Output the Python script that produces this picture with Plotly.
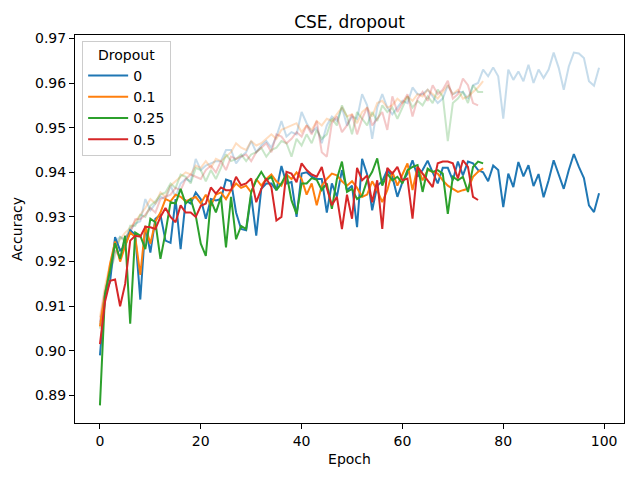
import plotly.graph_objects as go

# validation accuracy per dropout rate
val_0 = [0.899, 0.9125, 0.9155, 0.9255, 0.9225, 0.9235, 0.927, 0.926, 0.9115, 0.928,
         0.922, 0.9296, 0.9305, 0.9247, 0.9242, 0.934, 0.9228, 0.9337, 0.933, 0.9355,
         0.934, 0.9296, 0.934, 0.9337, 0.934, 0.9384, 0.938, 0.931, 0.9273, 0.927,
         0.9348, 0.9258, 0.9363, 0.9375, 0.9375, 0.936, 0.9414, 0.9375, 0.9378, 0.93,
         0.9397, 0.94, 0.939, 0.9385, 0.9385, 0.931, 0.9375, 0.9345, 0.9405, 0.936,
         0.937, 0.9277, 0.943, 0.9395, 0.9315, 0.937, 0.938, 0.9405, 0.939, 0.9345,
         0.9378, 0.9397, 0.9427, 0.939, 0.9405, 0.9426, 0.94, 0.9375, 0.941, 0.941,
         0.9382, 0.9424, 0.9393, 0.9424, 0.942, 0.9405, 0.94, 0.938, 0.9415, 0.9405,
         0.9322, 0.9397, 0.9367, 0.9423, 0.9391, 0.9416, 0.9369, 0.9396, 0.9344, 0.9382,
         0.9427, 0.9397, 0.9363, 0.9405, 0.9441, 0.9412, 0.9387, 0.9326, 0.9311, 0.9353]
val_01 = [0.9055, 0.913, 0.9195, 0.9245, 0.920, 0.9235, 0.9265, 0.9255, 0.917, 0.928,
          0.924, 0.929, 0.931, 0.934, 0.9335, 0.935, 0.9345, 0.9335, 0.934, 0.9345,
          0.933, 0.935, 0.9325, 0.935, 0.9355, 0.934, 0.936, 0.9375, 0.9365, 0.937,
          0.9355, 0.9385, 0.937, 0.9385, 0.9395, 0.938, 0.937, 0.9395, 0.9385, 0.940,
          0.9385, 0.935, 0.9375, 0.9326, 0.937, 0.9385, 0.9397, 0.9393, 0.938, 0.937,
          0.938, 0.9365, 0.9345, 0.935, 0.938, 0.936, 0.9333, 0.936, 0.9401, 0.937,
          0.9395, 0.942, 0.936, 0.9412, 0.9382, 0.9405, 0.9401, 0.9397, 0.9382, 0.937,
          0.9363, 0.9356, 0.936, 0.9363, 0.939, 0.9401, 0.9409]
val_025 = [0.8878, 0.9127, 0.918, 0.9241, 0.9206, 0.9258, 0.9061, 0.9265, 0.9258, 0.9228,
           0.9296, 0.9288, 0.9206, 0.9265, 0.9333, 0.933, 0.9363, 0.933, 0.934, 0.9303,
           0.924, 0.9213, 0.9337, 0.931, 0.9345, 0.9232, 0.9345, 0.925, 0.928, 0.9273,
           0.9356, 0.9382, 0.9401, 0.9382, 0.939, 0.936, 0.9375, 0.9397, 0.9337, 0.9307,
           0.9375, 0.9375, 0.9387, 0.9383, 0.936, 0.9375, 0.9318, 0.9385, 0.9424, 0.9356,
           0.9363, 0.934, 0.9348, 0.9382, 0.9401, 0.9431, 0.937, 0.9397, 0.9382, 0.939,
           0.9375, 0.9405, 0.9412, 0.9416, 0.9356, 0.9408, 0.9401, 0.9405, 0.9397, 0.9307,
           0.939, 0.9382, 0.939, 0.9356, 0.9412, 0.9424, 0.942]
val_05 = [0.9015, 0.911, 0.9157, 0.916, 0.910, 0.915, 0.9247, 0.9258, 0.9256, 0.9278,
          0.9277, 0.9273, 0.930, 0.932, 0.930, 0.9288, 0.9326, 0.931, 0.931, 0.930,
          0.9325, 0.933, 0.9366, 0.9352, 0.9366, 0.936, 0.936, 0.939, 0.9371, 0.9375,
          0.9386, 0.9333, 0.9363, 0.9386, 0.9367, 0.9292, 0.930, 0.9401, 0.9397, 0.9378,
          0.942, 0.9405, 0.9395, 0.939, 0.9412, 0.9365, 0.9326, 0.9345, 0.9273, 0.935,
          0.9296, 0.941, 0.9382, 0.9393, 0.9333, 0.9382, 0.9273, 0.941, 0.9397, 0.9412,
          0.9382, 0.9386, 0.9296, 0.9412, 0.9397, 0.9382, 0.9367, 0.942, 0.9424, 0.9424,
          0.942, 0.9386, 0.9427, 0.9412, 0.9345, 0.9338]

# training accuracy (drawn faded)
train_0 = [0.906, 0.913, 0.918, 0.9245, 0.9255, 0.925, 0.927, 0.9285, 0.929, 0.934,
           0.9315, 0.933, 0.9345, 0.934, 0.937, 0.9345, 0.9375, 0.9385, 0.938, 0.943,
           0.9405, 0.9415, 0.942, 0.9425, 0.9425, 0.945, 0.945, 0.942, 0.9435, 0.9445,
           0.947, 0.9445, 0.946, 0.947, 0.9455, 0.948, 0.9515, 0.948, 0.949, 0.9485,
           0.9535, 0.951, 0.949, 0.950, 0.9465, 0.9505, 0.9525, 0.9515, 0.9545, 0.9505,
           0.9525, 0.952, 0.9575, 0.955, 0.9475, 0.9545, 0.9575, 0.9545, 0.953, 0.9545,
           0.956, 0.9555, 0.959, 0.9575, 0.9575, 0.9585, 0.957, 0.9555, 0.9565, 0.9595,
           0.9575, 0.958, 0.958, 0.9565, 0.9595, 0.960, 0.963, 0.9615, 0.9635, 0.9615,
           0.952, 0.963, 0.9607, 0.9626, 0.9604, 0.9641, 0.960, 0.963, 0.9611, 0.963,
           0.9668, 0.9634, 0.9585, 0.9637, 0.9668, 0.9666, 0.9656, 0.9604, 0.9594, 0.9634]
train_01 = [0.9075, 0.9145, 0.9195, 0.9235, 0.925, 0.9265, 0.9275, 0.929, 0.9305, 0.932,
            0.934, 0.933, 0.9355, 0.9345, 0.937, 0.938, 0.939, 0.940, 0.9395, 0.9415,
            0.941, 0.9425, 0.941, 0.943, 0.9425, 0.9435, 0.9445, 0.9465, 0.9455, 0.945,
            0.947, 0.946, 0.9465, 0.9475, 0.9485, 0.9475, 0.9495, 0.950, 0.9505, 0.951,
            0.949, 0.9505, 0.9495, 0.9515, 0.9505, 0.952, 0.9515, 0.953, 0.9545, 0.9525,
            0.953, 0.951, 0.9535, 0.9545, 0.9525, 0.9555, 0.956, 0.9545, 0.955, 0.9565,
            0.9555, 0.957, 0.956, 0.9575, 0.957, 0.9585, 0.9575, 0.9565, 0.958, 0.9595,
            0.9575, 0.9585, 0.9565, 0.957, 0.958, 0.959, 0.9604]
train_025 = [0.905, 0.912, 0.9175, 0.9215, 0.9255, 0.9245, 0.928, 0.928, 0.9305, 0.930,
             0.9325, 0.9335, 0.935, 0.9355, 0.9375, 0.9365, 0.9395, 0.939, 0.9375, 0.941,
             0.9405, 0.938, 0.9405, 0.9385, 0.941, 0.944, 0.9425, 0.943, 0.944, 0.9425,
             0.944, 0.9445, 0.9455, 0.9435, 0.945, 0.9455, 0.947, 0.9465, 0.9435, 0.9475,
             0.946, 0.9485, 0.9465, 0.9495, 0.9475, 0.9485, 0.952, 0.9505, 0.955, 0.9525,
             0.9485, 0.9535, 0.952, 0.9505, 0.9535, 0.9515, 0.955, 0.9535, 0.9545, 0.952,
             0.9545, 0.957, 0.9545, 0.956, 0.955, 0.957, 0.9555, 0.9585, 0.957, 0.947,
             0.9555, 0.9565, 0.958, 0.9555, 0.9595, 0.958, 0.958]
train_05 = [0.9065, 0.9135, 0.9175, 0.9225, 0.921, 0.9255, 0.9265, 0.9295, 0.9295, 0.9305,
            0.932, 0.931, 0.934, 0.9345, 0.935, 0.9365, 0.936, 0.9385, 0.9395, 0.939,
            0.9385, 0.9405, 0.9415, 0.940, 0.9425, 0.9405, 0.9435, 0.943, 0.9435, 0.944,
            0.9425, 0.9445, 0.9455, 0.9465, 0.9445, 0.9485, 0.948, 0.9465, 0.9475, 0.949,
            0.948, 0.9505, 0.9485, 0.9515, 0.9445, 0.9435, 0.951, 0.9525, 0.949, 0.9505,
            0.953, 0.9485, 0.952, 0.9545, 0.9505, 0.952, 0.9535, 0.9495, 0.957, 0.9535,
            0.9555, 0.9575, 0.9525, 0.9565, 0.958, 0.956, 0.9595, 0.9575, 0.9585, 0.9605,
            0.9565, 0.9575, 0.961, 0.9595, 0.9555, 0.955]

labels = ["0", "0.1", "0.25", "0.5"]
colors = ["#1f77b4", "#ff7f0e", "#2ca02c", "#d62728"]
vals = [val_0, val_01, val_025, val_05]
trains = [train_0, train_01, train_025, train_05]

fig = go.Figure()

# faded training curves first
for tr, c in zip(trains, colors):
    fig.add_trace(go.Scatter(x=list(range(len(tr))), y=tr, mode="lines",
                             line=dict(color=c, width=2), opacity=0.25,
                             showlegend=False, hoverinfo="skip"))

for v, c, lab in zip(vals, colors, labels):
    fig.add_trace(go.Scatter(x=list(range(len(v))), y=v, mode="lines", name=lab,
                             line=dict(color=c, width=2)))

# matplotlib-like 5% margins
all_y = [y for s in vals + trains for y in s]
ymin, ymax = min(all_y), max(all_y)
pad = (ymax - ymin) * 0.05
xmax = max(len(s) for s in vals) - 1

axis_style = dict(showline=True, mirror=True, linecolor="black", linewidth=1,
                  ticks="outside", ticklen=5, tickcolor="black", showgrid=False,
                  zeroline=False, tickfont=dict(size=14, color="black"))

# the page body adds ~8px, margins below compensate for it
fig.update_layout(
    width=640, height=480,
    margin=dict(l=67, r=24, t=27, b=65, autoexpand=False),
    plot_bgcolor="white", paper_bgcolor="white",
    font=dict(family="DejaVu Sans", size=14, color="black"),
    title=dict(text="CSE, dropout", x=(67 + 549 / 2) / 640, xanchor="center",
               y=1 - 14 / 480, yanchor="middle", font=dict(size=17)),
    xaxis=dict(range=[-xmax * 0.05, xmax * 1.05], tickvals=[0, 20, 40, 60, 80, 100],
               title=dict(text="Epoch", standoff=6, font=dict(size=14)), **axis_style),
    yaxis=dict(range=[ymin - pad, ymax + pad], tickformat=".2f", dtick=0.01,
               title=dict(text="Accuracy", standoff=9, font=dict(size=14)), **axis_style),
    legend=dict(title=dict(text="Dropout", side="top center", font=dict(size=14)),
                x=0.013, y=0.985, xanchor="left", yanchor="top",
                bgcolor="rgba(255,255,255,0.8)", bordercolor="#cccccc",
                borderwidth=1, font=dict(size=14), itemwidth=40),
)

fig.write_html("out.html")
